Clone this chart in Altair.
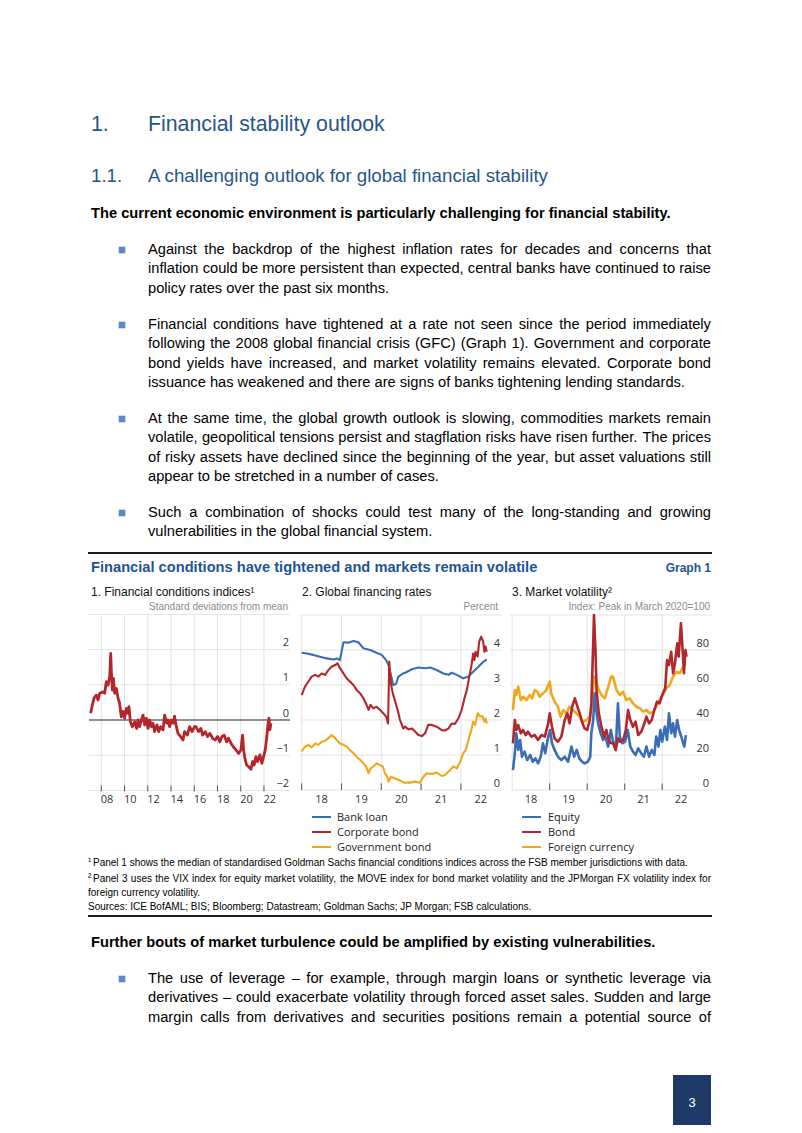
import altair as alt
import pandas as pd

# ============================================================ chart data
# Panel 1: Financial conditions indices (standard deviations from mean)
FCI_YEAR = [2007.08, 2007.20, 2007.37, 2007.57, 2007.72, 2007.86, 2008.15, 2008.29, 2008.43, 2008.58,
            2008.72, 2008.81, 2008.86, 2008.95, 2009.04, 2009.15, 2009.29, 2009.44, 2009.58, 2009.72,
            2009.87, 2010.01, 2010.15, 2010.30, 2010.38, 2010.50, 2010.67, 2010.87, 2011.04, 2011.16,
            2011.30, 2011.45, 2011.59, 2011.73, 2011.88, 2012.02, 2012.16, 2012.31, 2012.45, 2012.59,
            2012.79, 2012.94, 2013.11, 2013.31, 2013.45, 2013.63, 2013.74, 2013.88, 2014.03, 2014.20,
            2014.30, 2014.46, 2014.60, 2014.83, 2015.03, 2015.17, 2015.41, 2015.60, 2015.81, 2016.03,
            2016.14, 2016.37, 2016.57, 2016.72, 2016.95, 2017.15, 2017.35, 2017.58, 2017.81, 2018.01,
            2018.21, 2018.38, 2018.58, 2018.78, 2018.95, 2019.16, 2019.36, 2019.59, 2019.82, 2020.01,
            2020.16, 2020.25, 2020.36, 2020.51, 2020.68, 2020.88, 2021.02, 2021.16, 2021.31, 2021.45,
            2021.65, 2021.82, 2021.97, 2022.11, 2022.23, 2022.34, 2022.43, 2022.51, 2022.60]
FCI_VALUE = [0.19, 0.38, 0.62, 0.71, 0.57, 0.76, 0.80, 0.76, 1.09, 0.99,
             1.23, 1.89, 1.42, 0.85, 1.18, 0.76, 0.90, 0.62, 0.47, 0.09,
             0.24, 0.05, 0.33, 0.19, 0.38, -0.05, -0.19, -0.05, -0.24, 0.00,
             -0.19, 0.00, 0.14, -0.14, 0.05, -0.24, 0.00, -0.19, -0.09, -0.33,
             -0.14, -0.33, -0.19, -0.28, 0.14, -0.09, 0.00, -0.19, 0.00, -0.09,
             0.11, -0.19, -0.38, -0.47, -0.57, -0.33, -0.43, -0.19, -0.33, -0.19,
             -0.19, -0.33, -0.24, -0.43, -0.33, -0.47, -0.38, -0.52, -0.57, -0.47,
             -0.62, -0.47, -0.43, -0.62, -0.52, -0.66, -0.76, -0.85, -0.95, -0.85,
             -0.43, -0.85, -1.09, -1.28, -1.33, -1.40, -1.18, -1.28, -1.04, -1.18,
             -0.99, -1.23, -1.04, -0.85, -0.52, -0.14, 0.05, -0.28, -0.09]

# Panel 2: Global financing rates (percent)
BANK_YEAR = [2018.00, 2018.13, 2018.29, 2018.46, 2018.63, 2018.80, 2018.88, 2018.96, 2019.01, 2019.05,
             2019.17, 2019.30, 2019.42, 2019.55, 2019.72, 2019.88, 2020.01, 2020.12, 2020.18, 2020.24,
             2020.30, 2020.37, 2020.43, 2020.55, 2020.60, 2020.77, 2020.93, 2021.10, 2021.23, 2021.39,
             2021.56, 2021.69, 2021.77, 2021.90, 2022.06, 2022.19, 2022.31, 2022.44, 2022.57, 2022.65]
BANK_RATE = [3.92, 3.90, 3.86, 3.81, 3.76, 3.73, 3.76, 3.71, 4.00, 4.22,
             4.21, 4.26, 4.22, 4.05, 4.00, 3.92, 3.86, 3.71, 3.57, 3.29,
             3.00, 3.03, 3.24, 3.33, 3.35, 3.45, 3.50, 3.48, 3.50, 3.43,
             3.33, 3.29, 3.35, 3.29, 3.19, 3.24, 3.38, 3.52, 3.67, 3.73]
CORP_YEAR = [2018.00, 2018.08, 2018.17, 2018.25, 2018.34, 2018.42, 2018.50, 2018.59, 2018.67, 2018.75,
             2018.84, 2018.90, 2018.96, 2019.05, 2019.13, 2019.21, 2019.30, 2019.38, 2019.47, 2019.55,
             2019.63, 2019.68, 2019.73, 2019.80, 2019.88, 2019.97, 2020.05, 2020.12, 2020.17, 2020.20,
             2020.24, 2020.29, 2020.35, 2020.41, 2020.47, 2020.55, 2020.60, 2020.68, 2020.77, 2020.85,
             2020.93, 2021.02, 2021.10, 2021.18, 2021.27, 2021.39, 2021.52, 2021.60, 2021.69, 2021.77,
             2021.85, 2021.94, 2022.02, 2022.09, 2022.15, 2022.21, 2022.26, 2022.31, 2022.34, 2022.37,
             2022.42, 2022.46, 2022.51, 2022.56, 2022.59, 2022.62, 2022.65]
CORP_RATE = [2.71, 2.95, 3.10, 3.24, 3.29, 3.24, 3.33, 3.29, 3.43, 3.52,
             3.57, 3.62, 3.48, 3.33, 3.19, 3.10, 3.00, 2.86, 2.76, 2.62,
             2.43, 2.29, 2.43, 2.33, 2.38, 2.29, 2.19, 2.10, 1.90, 3.67,
             3.05, 2.76, 2.52, 2.29, 2.00, 1.76, 1.81, 1.73, 1.76, 1.67,
             1.57, 1.54, 1.62, 1.86, 1.86, 1.81, 1.71, 1.70, 1.76, 1.90,
             1.89, 2.05, 2.29, 2.62, 2.86, 3.24, 3.52, 3.90, 3.71, 3.95,
             3.81, 4.24, 4.38, 4.24, 3.95, 4.10, 3.95]
GOV_YEAR = [2018.00, 2018.08, 2018.17, 2018.25, 2018.34, 2018.42, 2018.50, 2018.59, 2018.67, 2018.75,
            2018.81, 2018.88, 2018.96, 2019.05, 2019.13, 2019.21, 2019.30, 2019.38, 2019.47, 2019.55,
            2019.62, 2019.68, 2019.73, 2019.80, 2019.88, 2019.97, 2020.04, 2020.09, 2020.15, 2020.18,
            2020.24, 2020.35, 2020.47, 2020.57, 2020.72, 2020.85, 2020.97, 2021.06, 2021.14, 2021.27,
            2021.39, 2021.52, 2021.60, 2021.73, 2021.81, 2021.90, 2021.98, 2022.06, 2022.12, 2022.19,
            2022.26, 2022.31, 2022.36, 2022.42, 2022.48, 2022.54, 2022.59, 2022.62, 2022.65]
GOV_RATE = [1.10, 1.24, 1.29, 1.22, 1.33, 1.29, 1.38, 1.41, 1.48, 1.57,
            1.52, 1.43, 1.33, 1.29, 1.24, 1.14, 1.05, 0.95, 0.86, 0.76,
            0.67, 0.48, 0.62, 0.67, 0.76, 0.71, 0.67, 0.48, 0.38, 0.24,
            0.38, 0.33, 0.27, 0.21, 0.21, 0.24, 0.21, 0.38, 0.48, 0.46,
            0.50, 0.40, 0.43, 0.57, 0.67, 0.62, 0.81, 1.05, 1.14, 1.43,
            1.71, 1.95, 1.86, 2.19, 2.10, 2.11, 1.95, 2.05, 1.90]

# Panel 3: Market volatility (index, peak in March 2020 = 100)
EQ_YEAR = [2018.02, 2018.07, 2018.11, 2018.16, 2018.21, 2018.26, 2018.33, 2018.40, 2018.48, 2018.55,
           2018.62, 2018.69, 2018.76, 2018.82, 2018.88, 2018.96, 2019.01, 2019.06, 2019.13, 2019.22,
           2019.31, 2019.40, 2019.49, 2019.58, 2019.65, 2019.72, 2019.79, 2019.86, 2019.93, 2020.02,
           2020.08, 2020.11, 2020.16, 2020.20, 2020.24, 2020.29, 2020.36, 2020.42, 2020.48, 2020.56,
           2020.63, 2020.69, 2020.76, 2020.82, 2020.87, 2020.94, 2021.01, 2021.08, 2021.15, 2021.22,
           2021.29, 2021.36, 2021.44, 2021.51, 2021.58, 2021.65, 2021.72, 2021.79, 2021.84, 2021.90,
           2021.95, 2022.00, 2022.07, 2022.13, 2022.18, 2022.24, 2022.29, 2022.34, 2022.40, 2022.45,
           2022.51, 2022.56, 2022.59, 2022.63]
EQ_VOL = [11.4, 21.0, 32.4, 22.9, 28.6, 19.0, 21.9, 17.1, 20.0, 16.2,
          18.1, 15.2, 19.0, 26.7, 21.0, 30.5, 34.3, 26.7, 22.9, 19.0,
          17.1, 19.0, 16.2, 24.8, 19.0, 22.9, 18.1, 16.2, 15.2, 16.2,
          19.0, 32.4, 40.0, 55.2, 45.7, 38.1, 32.4, 28.6, 30.5, 24.8,
          34.3, 27.6, 22.9, 49.5, 30.5, 26.7, 27.6, 34.3, 24.8, 21.9,
          20.0, 23.8, 21.0, 19.0, 24.8, 19.0, 22.9, 20.0, 30.5, 24.8,
          34.3, 27.6, 36.2, 28.6, 43.8, 32.4, 38.1, 30.5, 40.0, 34.3,
          30.5, 26.7, 24.8, 31.4]
BOND_YEAR = [2018.02, 2018.07, 2018.11, 2018.16, 2018.23, 2018.29, 2018.36, 2018.42, 2018.51, 2018.60,
             2018.69, 2018.78, 2018.87, 2018.96, 2019.00, 2019.06, 2019.13, 2019.22, 2019.31, 2019.40,
             2019.47, 2019.53, 2019.60, 2019.67, 2019.74, 2019.80, 2019.86, 2019.93, 2020.00, 2020.07,
             2020.11, 2020.16, 2020.18, 2020.22, 2020.25, 2020.31, 2020.38, 2020.45, 2020.51, 2020.57,
             2020.64, 2020.69, 2020.76, 2020.82, 2020.88, 2020.96, 2021.03, 2021.09, 2021.15, 2021.22,
             2021.29, 2021.36, 2021.44, 2021.51, 2021.58, 2021.65, 2021.72, 2021.79, 2021.86, 2021.93,
             2022.00, 2022.08, 2022.13, 2022.18, 2022.24, 2022.29, 2022.34, 2022.40, 2022.44, 2022.50,
             2022.54, 2022.58, 2022.62, 2022.65]
BOND_VOL = [26.7, 40.0, 34.3, 37.1, 32.4, 34.3, 31.4, 33.3, 30.5, 31.4,
            28.6, 31.4, 30.5, 38.1, 43.8, 36.2, 29.5, 27.6, 30.5, 40.0,
            43.8, 38.1, 47.6, 52.4, 47.6, 43.8, 39.0, 35.2, 34.3, 40.0,
            49.5, 83.8, 100.0, 80.0, 57.1, 43.8, 36.2, 30.5, 34.3, 28.6,
            26.7, 26.7, 22.9, 29.5, 27.6, 28.6, 34.3, 45.7, 40.0, 36.2,
            39.0, 31.4, 33.3, 37.1, 41.9, 38.1, 40.0, 45.7, 50.5, 49.5,
            54.3, 58.1, 74.3, 71.4, 79.0, 66.7, 72.4, 83.8, 76.2, 95.2,
            81.9, 66.7, 80.0, 76.2]
FX_YEAR = [2018.02, 2018.07, 2018.11, 2018.16, 2018.23, 2018.29, 2018.38, 2018.47, 2018.53, 2018.60,
           2018.67, 2018.73, 2018.82, 2018.91, 2019.00, 2019.04, 2019.13, 2019.22, 2019.29, 2019.36,
           2019.44, 2019.53, 2019.62, 2019.71, 2019.80, 2019.89, 2019.98, 2020.07, 2020.13, 2020.18,
           2020.24, 2020.31, 2020.38, 2020.47, 2020.56, 2020.64, 2020.69, 2020.78, 2020.87, 2020.96,
           2021.04, 2021.13, 2021.22, 2021.31, 2021.40, 2021.49, 2021.58, 2021.67, 2021.76, 2021.84,
           2021.93, 2022.02, 2022.11, 2022.20, 2022.29, 2022.38, 2022.47, 2022.56, 2022.63]
FX_VOL = [45.7, 57.1, 54.3, 59.0, 51.4, 53.3, 51.4, 54.3, 52.4, 57.1,
          56.2, 53.3, 55.2, 57.1, 61.9, 55.2, 50.5, 47.6, 41.9, 45.7,
          43.8, 47.6, 45.7, 43.8, 41.9, 39.0, 40.0, 41.9, 47.6, 64.8,
          61.9, 57.1, 54.3, 52.4, 59.0, 64.8, 64.8, 57.1, 54.3, 56.2,
          51.4, 52.4, 49.5, 47.6, 46.7, 44.8, 45.7, 43.8, 44.8, 47.6,
          51.4, 54.3, 58.1, 60.0, 64.8, 67.6, 66.7, 70.5, 72.4]

# axis ticks / labels
P1_GRID_YEARS = [2008, 2010, 2012, 2014, 2016, 2018, 2020, 2022]
P1_LABEL_YEARS = [2008.5, 2010.5, 2012.5, 2014.5, 2016.5, 2018.5, 2020.5, 2022.5]
P1_XLABELS = ["08", "10", "12", "14", "16", "18", "20", "22"]
P1_YVALUES = [-2, -1, 0, 1, 2]
P1_YLABELS = ["\u22122", "\u22121", "0", "1", "2"]
P1_YTOP = 3

P2_GRID_YEARS = [2018, 2019, 2020, 2021, 2022]
P2_TICK_YEARS = [2018, 2019, 2020, 2021, 2022]
P2_LABEL_YEARS = [2018.5, 2019.5, 2020.5, 2021.5, 2022.5]
P2_XLABELS = ["18", "19", "20", "21", "22"]
P2_YVALUES = [0, 1, 2, 3, 4]
P2_YLABELS = ["0", "1", "2", "3", "4"]
P2_YTOP = 5

P3_GRID_YEARS = [2018, 2019, 2020, 2021, 2022]
P3_TICK_YEARS = [2019, 2020, 2021, 2022]
P3_LABEL_YEARS = [2018.5, 2019.5, 2020.5, 2021.5, 2022.5]
P3_XLABELS = ["18", "19", "20", "21", "22"]
P3_YVALUES = [0, 20, 40, 60, 80]
P3_YLABELS = ["0", "20", "40", "60", "80"]
P3_YTOP = 100

LEGEND_P2 = ["Bank loan", "Corporate bond", "Government bond"]
LEGEND_P3 = ["Equity", "Bond", "Foreign currency"]

# ============================================================ page text
H1_NUM, H1_TEXT = "1.", "Financial stability outlook"
H2_NUM, H2_TEXT = "1.1.", "A challenging outlook for global financial stability"
LEAD_1 = "The current economic environment is particularly challenging for financial stability."
BULLETS_1 = [
    ["Against the backdrop of the highest inflation rates for decades and concerns that",
     "inflation could be more persistent than expected, central banks have continued to raise",
     "policy rates over the past six months."],
    ["Financial conditions have tightened at a rate not seen since the period immediately",
     "following the 2008 global financial crisis (GFC) (Graph 1). Government and corporate",
     "bond yields have increased, and market volatility remains elevated. Corporate bond",
     "issuance has weakened and there are signs of banks tightening lending standards."],
    ["At the same time, the global growth outlook is slowing, commodities markets remain",
     "volatile, geopolitical tensions persist and stagflation risks have risen further. The prices",
     "of risky assets have declined since the beginning of the year, but asset valuations still",
     "appear to be stretched in a number of cases."],
    ["Such a combination of shocks could test many of the long-standing and growing",
     "vulnerabilities in the global financial system."],
]
GRAPH_TITLE = "Financial conditions have tightened and markets remain volatile"
GRAPH_NO = "Graph 1"
PANEL_TITLES = ["1. Financial conditions indices\u00b9", "2. Global financing rates",
                "3. Market volatility\u00b2"]
PANEL_UNITS = ["Standard deviations from mean", "Percent", "Index: Peak in March 2020=100"]
FOOTNOTE_1 = "Panel 1 shows the median of standardised Goldman Sachs financial conditions indices across the FSB member jurisdictions with data."
FOOTNOTE_2 = ["Panel 3 uses the VIX index for equity market volatility, the MOVE index for bond market volatility and the JPMorgan FX volatility index for",
              "foreign currency volatility."]
SOURCES = "Sources: ICE BofAML; BIS; Bloomberg; Datastream; Goldman Sachs; JP Morgan; FSB calculations."
LEAD_2 = "Further bouts of market turbulence could be amplified by existing vulnerabilities."
BULLETS_2 = [
    ["The use of leverage \u2013 for example, through margin loans or synthetic leverage via",
     "derivatives \u2013 could exacerbate volatility through forced asset sales. Sudden and large",
     "margin calls from derivatives and securities positions remain a potential source of"],
]
PAGE_NO = "3"

# ============================================================ styling / layout
OX, OY = 8, 8  # page margin: canvas origin in page pixels
DOC_FONT = "Liberation Sans"
CHART_FONT = "Open Sans"
BLUE_HEAD = "#27558a"
BLUE_TITLE = "#1f5590"
C_BLUE, C_RED, C_YEL = "#3a6db5", "#b3262c", "#f2a71b"
GRID = "#e4e4e4"

REG_W = dict(zip("abcdefghijklmnopqrstuvwxyz",
                 [556, 556, 500, 556, 556, 278, 556, 556, 222, 222, 500, 222, 833, 556, 556, 556, 556,
                  333, 500, 278, 556, 500, 722, 500, 500, 500]))
REG_W.update(zip("ABCDEFGHIJKLMNOPQRSTUVWXYZ",
                 [667, 667, 722, 722, 667, 611, 778, 722, 278, 500, 667, 556, 833, 722, 778, 667, 778,
                  722, 667, 611, 722, 667, 944, 667, 667, 611]))
REG_W.update({c: 556 for c in "0123456789"})
REG_W.update({" ": 278, ",": 278, ".": 278, "(": 333, ")": 333, "-": 333, "\u2013": 556, ";": 278,
              ":": 278, "=": 584, "'": 191, "/": 278})
BOLD_W = dict(zip("abcdefghijklmnopqrstuvwxyz",
                  [556, 611, 556, 611, 556, 333, 611, 611, 278, 278, 556, 278, 889, 611, 611, 611, 611,
                   389, 556, 333, 611, 556, 778, 556, 556, 500]))
BOLD_W.update(zip("ABCDEFGHIJKLMNOPQRSTUVWXYZ",
                  [722, 722, 722, 722, 667, 611, 778, 722, 278, 556, 722, 611, 833, 722, 778, 667, 778,
                   722, 667, 611, 722, 667, 944, 667, 667, 611]))
BOLD_W.update({c: 556 for c in "0123456789"})
BOLD_W.update({" ": 278, ",": 278, ".": 278, "(": 333, ")": 333, "-": 333, ":": 333, ";": 333})


def tw(s, size, bold=False):
    table = BOLD_W if bold else REG_W
    return sum(table.get(c, 556) for c in s) * size / 1000.0


def para_rows(lines, x0, x1, y0, step, size, bold=False, justify_last=False):
    rows = []
    for i, line in enumerate(lines):
        y = y0 + i * step
        if i == len(lines) - 1 and not justify_last:
            rows.append((x0, y, line))
            continue
        words = line.split(" ")
        widths = [tw(w, size, bold) for w in words]
        gap = (x1 - x0 - sum(widths)) / (len(words) - 1)
        x = x0
        for w, wd in zip(words, widths):
            rows.append((x, y, w))
            x += wd + gap
    return rows


def txt(rows, size, color="#000000", font=DOC_FONT, weight="normal", align="left", baseline="middle"):
    df = pd.DataFrame(rows, columns=["px", "py", "t"])
    df["px"] = df["px"] - OX
    df["py"] = df["py"] - OY
    return alt.Chart(df).mark_text(font=font, fontSize=size, fontWeight=weight, color=color,
                                   align=align, baseline=baseline).encode(
        x=alt.X("px:Q", scale=None, axis=None),
        y=alt.Y("py:Q", scale=None, axis=None),
        text="t:N")


DUMMY = pd.DataFrame({"a": [0]})


def hrule(x0, x1, y, color, width):
    return alt.Chart(DUMMY).mark_rule(color=color, strokeWidth=width).encode(
        x=alt.value(x0 - OX), x2=alt.value(x1 - OX), y=alt.value(y - OY))


PANELS = {
    1: dict(left=89.0, right=290.1, xdom=[2006.94, 2024.25], bottom=790.4, top=614.4,
            ydom=[-2, 3], lab_x=289, tick=(785.5, 791.5)),
    2: dict(left=300.0, right=502.0, xdom=[2017.957, 2023.033], bottom=790.0, top=615.0,
            ydom=[0, 5], lab_x=500, tick=(783.5, 790)),
    3: dict(left=510.0, right=712.0, xdom=[2017.941, 2023.328], bottom=790.0, top=615.0,
            ydom=[0, 100], lab_x=709, tick=(783.5, 790)),
}


def xs(p):
    return alt.Scale(domain=p["xdom"], range=[p["left"] - OX, p["right"] - OX], nice=False, zero=False)


def ys(p):
    return alt.Scale(domain=p["ydom"], range=[p["bottom"] - OY, p["top"] - OY], nice=False, zero=False)


def panel_layers(p, grid_years, tick_years, label_years, xlabels, yvalues, ylabels, ytop, series):
    L = []
    hg = pd.DataFrame({"v": yvalues + [ytop]})
    L.append(alt.Chart(hg).mark_rule(color=GRID, strokeWidth=1).encode(
        y=alt.Y("v:Q", scale=ys(p), axis=None),
        x=alt.value(p["left"] - OX), x2=alt.value(p["right"] - OX)))
    vg = pd.DataFrame({"yr": grid_years})
    L.append(alt.Chart(vg).mark_rule(color=GRID, strokeWidth=1).encode(
        x=alt.X("yr:Q", scale=xs(p), axis=None),
        y=alt.value(p["top"] - OY), y2=alt.value(p["bottom"] - OY)))
    tk = pd.DataFrame({"yr": tick_years})
    L.append(alt.Chart(tk).mark_rule(color="#555555", strokeWidth=1).encode(
        x=alt.X("yr:Q", scale=xs(p), axis=None),
        y=alt.value(p["tick"][0] - OY), y2=alt.value(p["tick"][1] - OY)))
    xl = pd.DataFrame({"yr": label_years, "lab": xlabels})
    L.append(alt.Chart(xl).mark_text(font=CHART_FONT, fontSize=11, color="#333333",
                                     align="center", baseline="middle").encode(
        x=alt.X("yr:Q", scale=xs(p), axis=None), y=alt.value(800 - OY), text="lab:N"))
    yl = pd.DataFrame({"v": yvalues, "lab": ylabels})
    L.append(alt.Chart(yl).mark_text(font=CHART_FONT, fontSize=11, color="#333333",
                                     align="right", baseline="bottom", dy=-1.5).encode(
        y=alt.Y("v:Q", scale=ys(p), axis=None), x=alt.value(p["lab_x"] - OX), text="lab:N"))
    for years, vals, color, width in series:
        df = pd.DataFrame({"year": years, "value": vals})
        L.append(alt.Chart(df).mark_line(color=color, strokeWidth=width, strokeJoin="round").encode(
            x=alt.X("year:Q", scale=xs(p), axis=None),
            y=alt.Y("value:Q", scale=ys(p), axis=None)))
    return L


layers = []

# ---------------- headings and body text (top)
layers.append(txt([(91, 125, H1_NUM), (148, 125, H1_TEXT)], 21.3, BLUE_HEAD))
layers.append(txt([(91, 176, H2_NUM), (148, 176, H2_TEXT)], 18.7, BLUE_HEAD))
layers.append(txt([(91, 214, LEAD_1)], 14.67, weight="bold"))

STEP = 19.4
body_rows, bullet_rows = [], []
for para, y0 in zip(BULLETS_1, [250, 325, 419, 513]):
    body_rows += para_rows(para, 148, 711, y0, STEP, 14.67)
    bullet_rows.append((122, y0, ""))
for para, y0 in zip(BULLETS_2, [979]):
    body_rows += para_rows(para, 148, 711, y0, STEP, 14.67, justify_last=True)
    bullet_rows.append((122, y0, ""))
layers.append(txt(body_rows, 14.67))
bdf = pd.DataFrame(bullet_rows, columns=["px", "py", "t"])
bdf["px"] -= OX
bdf["py"] -= OY
layers.append(alt.Chart(bdf).mark_square(size=44, color="#5a88c6", opacity=1).encode(
    x=alt.X("px:Q", scale=None, axis=None), y=alt.Y("py:Q", scale=None, axis=None)))

# ---------------- graph box
layers.append(hrule(88, 712, 553, "#1c1c28", 2))
layers.append(hrule(88, 712, 916, "#1c1c28", 2))
layers.append(txt([(91, 568, GRAPH_TITLE)], 14.67, BLUE_TITLE, weight="bold"))
layers.append(txt([(711, 568, GRAPH_NO)], 12, BLUE_TITLE, weight="bold", align="right"))
layers.append(txt([(91, 592, PANEL_TITLES[0]), (302, 592, PANEL_TITLES[1]),
                   (512, 592, PANEL_TITLES[2])], 12, "#111111"))
layers.append(txt([(288, 607, PANEL_UNITS[0]), (498, 607, PANEL_UNITS[1]),
                   (710, 607, PANEL_UNITS[2])], 10, "#8a8a8a", align="right"))

layers += panel_layers(PANELS[1], P1_GRID_YEARS, P1_GRID_YEARS, P1_LABEL_YEARS, P1_XLABELS,
                       P1_YVALUES, P1_YLABELS, P1_YTOP, [])
layers.append(alt.Chart(pd.DataFrame({"v": [0]})).mark_rule(color="#6e6e6e", strokeWidth=1.5).encode(
    y=alt.Y("v:Q", scale=ys(PANELS[1]), axis=None),
    x=alt.value(PANELS[1]["left"] - OX), x2=alt.value(PANELS[1]["right"] - OX)))
layers.append(alt.Chart(pd.DataFrame({"year": FCI_YEAR, "value": FCI_VALUE})).mark_line(
    color=C_RED, strokeWidth=2.8, strokeJoin="round").encode(
    x=alt.X("year:Q", scale=xs(PANELS[1]), axis=None),
    y=alt.Y("value:Q", scale=ys(PANELS[1]), axis=None)))

layers += panel_layers(PANELS[2], P2_GRID_YEARS, P2_TICK_YEARS, P2_LABEL_YEARS, P2_XLABELS,
                       P2_YVALUES, P2_YLABELS, P2_YTOP,
                       [(BANK_YEAR, BANK_RATE, C_BLUE, 2.1), (GOV_YEAR, GOV_RATE, C_YEL, 2.1),
                        (CORP_YEAR, CORP_RATE, C_RED, 2.1)])
layers += panel_layers(PANELS[3], P3_GRID_YEARS, P3_TICK_YEARS, P3_LABEL_YEARS, P3_XLABELS,
                       P3_YVALUES, P3_YLABELS, P3_YTOP,
                       [(FX_YEAR, FX_VOL, C_YEL, 2.6), (EQ_YEAR, EQ_VOL, C_BLUE, 2.6),
                        (BOND_YEAR, BOND_VOL, C_RED, 2.6)])

# ---------------- legends
LEG_Y = [817, 832, 847]
LEG_COL = [C_BLUE, C_RED, C_YEL]
for (sx0, sx1, tx), names in [((312, 331, 337), LEGEND_P2), ((522, 541, 548), LEGEND_P3)]:
    for y, c in zip(LEG_Y, LEG_COL):
        layers.append(hrule(sx0, sx1, y, c, 2))
    layers.append(txt([(tx, y + 0.5, n) for y, n in zip(LEG_Y, names)], 11, "#222222", font=CHART_FONT))

# ---------------- footnotes
fn_rows = [(88, 861, "\u00b9"), (93, 863, FOOTNOTE_1), (88, 877, "\u00b2")]
fn_rows += para_rows(FOOTNOTE_2, 93, 711, 879, 13.5, 10)
fn_rows[-1] = (88, 892.5, FOOTNOTE_2[1])
fn_rows.append((88, 907, SOURCES))
layers.append(txt(fn_rows, 10))

# ---------------- lower text
layers.append(txt([(91, 943, LEAD_2)], 14.67, weight="bold"))

# ---------------- page number box
layers.append(alt.Chart(DUMMY).mark_rect(color="#1e3a68").encode(
    x=alt.value(673 - OX), x2=alt.value(711 - OX), y=alt.value(1075 - OY), y2=alt.value(1125 - OY)))
layers.append(txt([(692, 1103, PAGE_NO)], 13, "#ffffff", align="center"))

chart = alt.layer(*layers).resolve_scale(x="independent", y="independent").properties(
    width=786, height=1117, autosize=alt.AutoSizeParams(type="none"), padding=0,
    background="#ffffff").configure_view(stroke=None)

chart.save("out.html", embed_options={"renderer": "svg", "actions": False})
